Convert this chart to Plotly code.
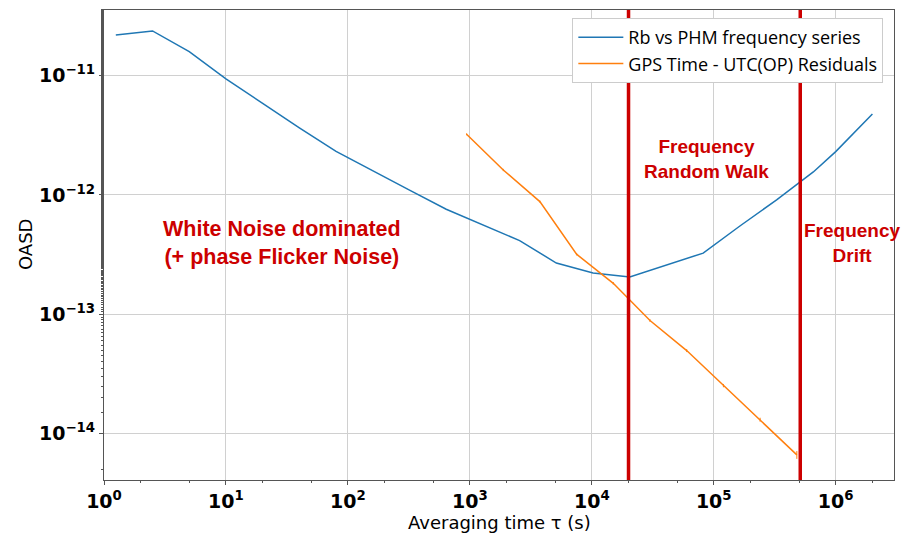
import plotly.graph_objects as go

# ---------------- data ----------------
rb_tau = [1.25, 2.5, 5, 10, 20, 40, 80, 160, 320, 640, 1280, 2560, 5120, 10240,
          20480, 40960, 81920, 163840, 327680, 655360, 1.0e6, 2.0e6]
rb_oasd = [2.19e-11, 2.37e-11, 1.59e-11, 9.4e-12, 5.85e-12, 3.65e-12, 2.32e-12,
           1.61e-12, 1.10e-12, 7.6e-13, 5.6e-13, 4.15e-13, 2.69e-13, 2.22e-13,
           2.06e-13, 2.6e-13, 3.26e-13, 5.5e-13, 9.1e-13, 1.56e-12, 2.31e-12, 4.77e-12]

gps_tau = [940, 1880, 3750, 7500, 15000, 30000, 60000, 120000, 240000, 480000]
gps_oasd = [3.23e-12, 1.62e-12, 8.8e-13, 3.19e-13, 1.82e-13, 8.87e-14, 4.97e-14,
            2.53e-14, 1.31e-14, 6.65e-15]
gps_err = [6e-14, 3.5e-14, 1.8e-14, 7e-15, 4.5e-15, 2.3e-15, 1.4e-15, 8e-16, 5e-16, 5e-16]

regime_boundaries = [2.0e4, 5.12e5]
regime_labels = ["White Noise dominated<br>(+ phase Flicker Noise)",
                 "Frequency<br>Random Walk",
                 "Frequency<br>Drift"]

x_tick_exps = [0, 1, 2, 3, 4, 5, 6]
y_tick_exps = [-14, -13, -12, -11]

series_names = ["Rb vs PHM frequency series", "GPS Time - UTC(OP) Residuals"]
x_title = "Averaging time τ (s)"
y_title = "OASD"


def pow_label(e):
    s = str(e).replace("-", "\u2212")
    return "10<sup>" + s + "</sup>"


# ---------------- styling ----------------
BLUE = "#1f77b4"
ORANGE = "#ff7f0e"
RED = "#cc0000"
GRID = "#d0d0d0"
AXIS = "#555555"
TICKFONT = dict(family="DejaVu Sans", size=19, color="black", weight="bold")

fig = go.Figure()
fig.add_trace(go.Scatter(x=rb_tau, y=rb_oasd, mode="lines", name=series_names[0],
                         line=dict(color=BLUE, width=1.5)))
fig.add_trace(go.Scatter(x=gps_tau, y=gps_oasd, mode="lines", name=series_names[1],
                         line=dict(color=ORANGE, width=1.5),
                         error_y=dict(type="data", array=gps_err, color=ORANGE,
                                      thickness=1, width=0)))

for xb in regime_boundaries:
    fig.add_vline(x=xb, line=dict(color=RED, width=3.5), layer="above")

ann_pos = [(0.225, 0.504, 21.5), (0.763, 0.682, 19), (0.947, 0.505, 19)]
for txt, (ax_, ay_, fs) in zip(regime_labels, ann_pos):
    fig.add_annotation(x=ax_, y=ay_, xref="paper", yref="paper", text=txt,
                       showarrow=False, align="center", xanchor="center", yanchor="middle",
                       font=dict(family="Liberation Sans", size=fs, color=RED, weight="bold"))

# axis titles as annotations for precise placement
fig.add_annotation(x=0.5, y=-0.0894, xref="paper", yref="paper", text=x_title,
                   showarrow=False, xanchor="center", yanchor="middle",
                   font=dict(family="DejaVu Sans", size=18, color="black"))
fig.add_annotation(x=-0.1, y=0.5, xref="paper", yref="paper", text=y_title,
                   showarrow=False, xanchor="center", yanchor="middle", textangle=-90,
                   font=dict(family="DejaVu Sans", size=18, color="black"))

fig.update_layout(
    width=905, height=538,
    margin=dict(l=104, r=11, t=10, b=58),
    paper_bgcolor="white", plot_bgcolor="white",
    showlegend=True,
    legend=dict(x=0.9865, y=0.983, xanchor="right", yanchor="top",
                bgcolor="white", bordercolor="#cccccc", borderwidth=1,
                itemwidth=45,
                font=dict(family="Open Sans", size=18, color="black")),
)

fig.update_xaxes(type="log", range=[0, 6.478], tickmode="array",
                 tickvals=[10 ** e for e in x_tick_exps],
                 ticktext=[pow_label(e) for e in x_tick_exps],
                 showgrid=True, gridcolor=GRID, gridwidth=1,
                 ticks="outside", ticklen=4, tickcolor=AXIS, tickfont=TICKFONT,
                 showline=True, linecolor=AXIS, linewidth=1.2, mirror=True,
                 minor=dict(ticks="outside", ticklen=2, tickcolor=AXIS, showgrid=False),
                 zeroline=False, automargin=False)
fig.update_yaxes(type="log", range=[-14.388, -10.45], tickmode="array",
                 tickvals=[10.0 ** e for e in y_tick_exps],
                 ticktext=[pow_label(e) for e in y_tick_exps],
                 showgrid=True, gridcolor=GRID, gridwidth=1,
                 ticks="outside", ticklen=4, tickcolor=AXIS, tickfont=TICKFONT,
                 showline=True, linecolor=AXIS, linewidth=1.2, mirror=True,
                 minor=dict(ticks="outside", ticklen=2, tickcolor=AXIS, showgrid=False),
                 zeroline=False, automargin=False)

fig.write_html("out.html")
